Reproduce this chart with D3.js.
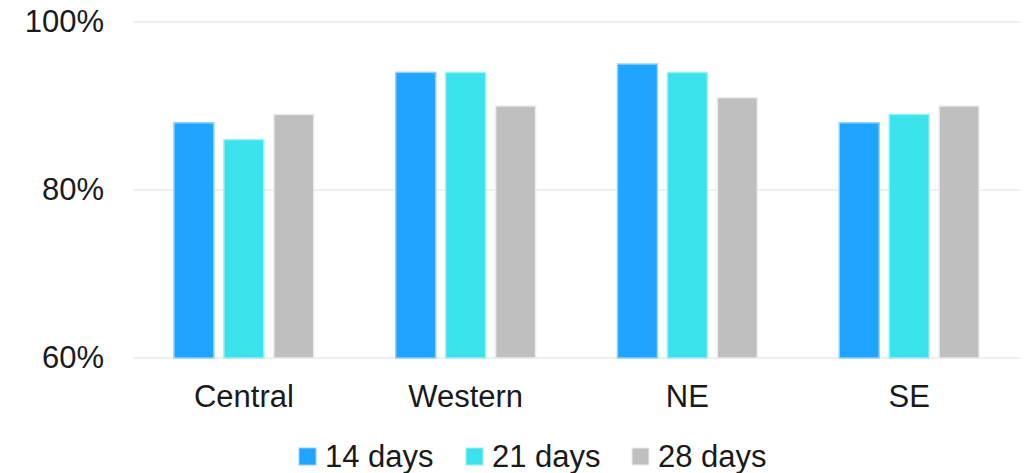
<!DOCTYPE html>
<html>
<head>
<meta charset="utf-8">
<script src="https://cdn.jsdelivr.net/npm/d3@7/dist/d3.min.js"></script>
<style>
  html, body { margin: 0; padding: 0; background: #fff; }
  svg text { font-family: "Liberation Sans", Arial, sans-serif; fill: #1a1a1a; }
</style>
</head>
<body>
<svg id="chart" width="1028" height="473"></svg>
<script>
// Regions along the x axis
const regions = ["Central", "Western", "NE", "SE"];
// Series names and their share values (%) per region
const seriesNames = ["14 days", "21 days", "28 days"];
const days14 = [88, 94, 95, 88];
const days21 = [86, 94, 94, 89];
const days28 = [89, 90, 91, 90];
const seriesValues = [days14, days21, days28];
// Y axis ticks
const yTicks = [60, 80, 100];

const colors = ["#1fa4ff", "#3ae2ec", "#bfbfbf"];
const strokes = ["#8fd2ff", "#9ef0f5", "#ececec"];
const FONT = 31;

const svg = d3.select("#chart");
const margin = { left: 133, right: 8, top: 22, bottom: 115 };
const W = 1028, H = 473;

const x = d3.scaleBand().domain(regions).range([margin.left, W - margin.right]).paddingInner(0).paddingOuter(0);
const xs = d3.scaleBand().domain(seriesNames).range([0, x.bandwidth()]).paddingInner(0.2).paddingOuter(0.82);
const y = d3.scaleLinear().domain([60, 100]).range([H - margin.bottom, margin.top]);

// Gridlines
svg.append("g")
  .selectAll("line")
  .data(yTicks)
  .join("line")
  .attr("x1", margin.left)
  .attr("x2", W - margin.right)
  .attr("y1", d => y(d))
  .attr("y2", d => y(d))
  .attr("stroke", "#efefef")
  .attr("stroke-width", 2);

// Y axis labels
const yAxis = d3.axisLeft(y).tickValues(yTicks).tickSize(0).tickPadding(0).tickFormat(d => d + "%");
const yg = svg.append("g").attr("transform", `translate(104,0)`).call(yAxis);
yg.attr("font-size", FONT).attr("font-family", null);
yg.select(".domain").remove();
yg.selectAll("text").attr("fill", "#1a1a1a").attr("dy", "0.3em");

// Bars
const groups = svg.append("g")
  .selectAll("g")
  .data(regions)
  .join("g")
  .attr("transform", d => `translate(${x(d)},0)`);

groups.selectAll("rect")
  .data((r, i) => seriesNames.map((s, j) => ({ s, j, v: seriesValues[j][i] })))
  .join("rect")
  .attr("x", d => xs(d.s))
  .attr("width", xs.bandwidth())
  .attr("y", d => y(d.v))
  .attr("height", d => y(60) - y(d.v))
  .attr("fill", d => colors[d.j])
  .attr("stroke", d => strokes[d.j])
  .attr("stroke-width", 1.5);

// X axis labels
const xAxis = d3.axisBottom(x).tickSize(0).tickPadding(0);
const xg = svg.append("g").attr("transform", `translate(0,${y(60) + 49})`).call(xAxis);
xg.attr("font-size", FONT).attr("font-family", null);
xg.select(".domain").remove();
xg.selectAll("text").attr("fill", "#1a1a1a").attr("dy", 0);

// Legend
const legendX = [299, 466, 632];
const legend = svg.append("g")
  .selectAll("g")
  .data(seriesNames)
  .join("g")
  .attr("transform", (d, i) => `translate(${legendX[i]},448)`);
legend.append("rect")
  .attr("width", 17).attr("height", 17)
  .attr("fill", (d, i) => colors[i])
  .attr("stroke", (d, i) => strokes[i]).attr("stroke-width", 1);
legend.append("text")
  .attr("x", 26).attr("y", 18.5)
  .attr("font-size", FONT)
  .text(d => d);
</script>
</body>
</html>
